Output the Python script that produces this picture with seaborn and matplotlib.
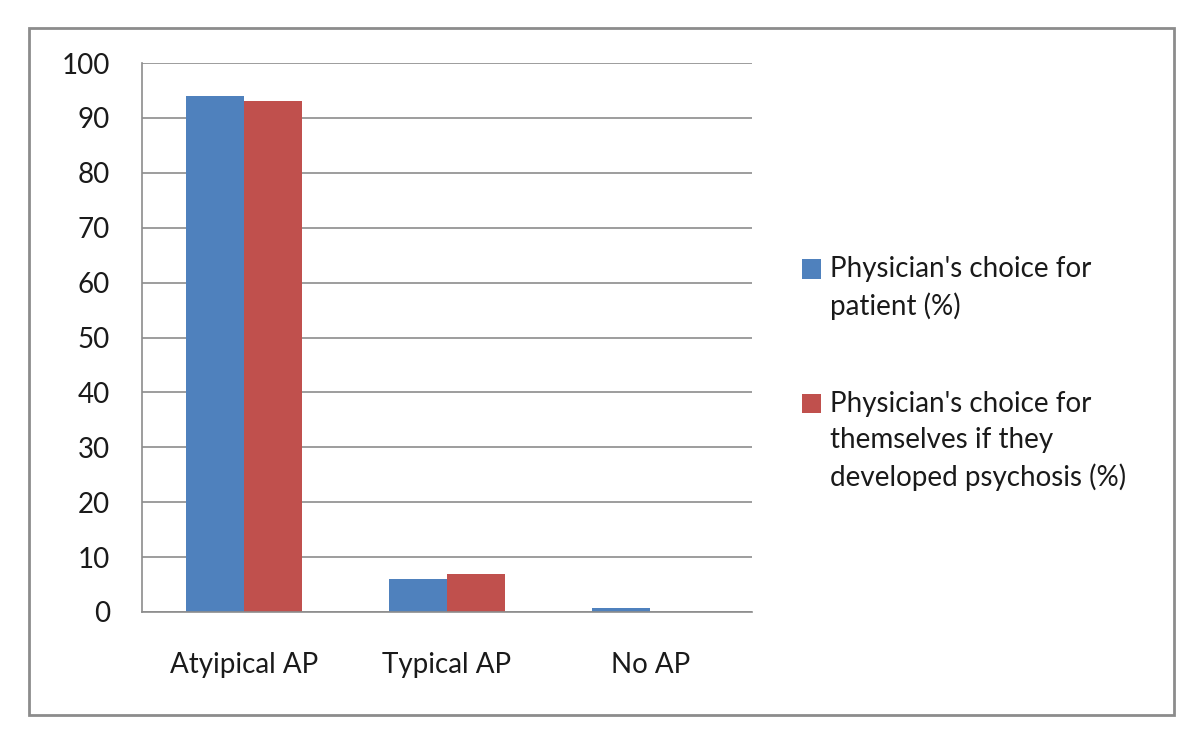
import matplotlib
matplotlib.use("Agg")
import matplotlib.pyplot as plt
import seaborn as sns
import pandas as pd
from matplotlib.patches import Rectangle, Patch
from matplotlib.legend_handler import HandlerPatch

categories = ["Atyipical AP", "Typical AP", "No AP"]
series_names = ["Physician's choice for\npatient (%)",
                "Physician's choice for\nthemselves if they\ndeveloped psychosis (%)"]
patient_vals = [94, 6, 0.7]
self_vals = [93, 7, 0]
yticks = [0, 10, 20, 30, 40, 50, 60, 70, 80, 90, 100]
colors = ["#4F81BD", "#C0504D"]

df = pd.DataFrame({
    "category": categories * 2,
    "series": [series_names[0]] * 3 + [series_names[1]] * 3,
    "value": patient_vals + self_vals,
})

sns.set_style("white")
plt.rcParams['font.family'] = ['Lato', 'DejaVu Sans']

FS = 20
GRID = "#8c8c8c"

fig = plt.figure(figsize=(12, 7.33), dpi=100)
ax = fig.add_axes([142/1200, 1-612/733, (752-142)/1200, (612-63)/733])

sns.barplot(data=df, x="category", y="value", hue="series", palette=colors,
            width=0.57, saturation=1, ax=ax, legend=False, errorbar=None,
            linewidth=0, edgecolor="none")

ax.set_ylim(0, 100)
ax.set_xlim(-0.5, 2.5)
ax.set_yticks(yticks)
ax.yaxis.grid(True, color=GRID, linewidth=1.2)
ax.set_axisbelow(True)
ax.set_xlabel("")
ax.set_ylabel("")
for s in ["top", "right"]:
    ax.spines[s].set_visible(False)
for s in ["left", "bottom"]:
    ax.spines[s].set_color(GRID)
    ax.spines[s].set_linewidth(1.2)

ax.set_xticks([-0.5, 0.5, 1.5, 2.5], minor=False)
ax.set_xticklabels([])
ax.set_xticks([0, 1, 2], minor=True)
ax.set_xticklabels(categories, minor=True, fontsize=FS, color="#1a1a1a")
ax.tick_params(axis="x", which="major", length=7, width=1.2, color=GRID, direction="out")
ax.tick_params(axis="x", which="minor", length=0, pad=28.5)
ax.tick_params(axis="y", length=7, width=1.2, color=GRID, direction="out",
               labelsize=FS, pad=16, labelcolor="#1a1a1a")


class FirstLineHandler(HandlerPatch):
    """Square legend key aligned with the first line of a multi-line label."""
    def __init__(self, nlines, step):
        super().__init__()
        self.shift = (nlines - 1) / 2 * step + 1.0

    def create_artists(self, legend, orig_handle, xdescent, ydescent,
                       width, height, fontsize, trans):
        p = Rectangle((-xdescent, -ydescent + self.shift), width, height,
                      facecolor=orig_handle.get_facecolor(), edgecolor="none",
                      transform=trans)
        return [p]


STEP_PT = 26.6
handles = [Patch(facecolor=c, edgecolor="none") for c in colors]
hmap = {h: FirstLineHandler(name.count("\n") + 1, STEP_PT)
        for h, name in zip(handles, series_names)}
leg = fig.legend(handles, series_names, loc="upper left",
                 bbox_to_anchor=(802/1200, 1-256/733),
                 frameon=False, fontsize=FS, labelspacing=2.55,
                 handlelength=0.68, handleheight=0.68, handletextpad=0.32,
                 borderpad=0, borderaxespad=0, handler_map=hmap)
for t in leg.get_texts():
    t.set_linespacing(1.47)
    t.set_color("#1a1a1a")

fig.patches.append(Rectangle((29/1200, 1-715/733), (1174-29)/1200, (715-28)/733,
                             transform=fig.transFigure, fill=False, edgecolor=GRID,
                             linewidth=2))

fig.savefig("out.png", dpi=100)
